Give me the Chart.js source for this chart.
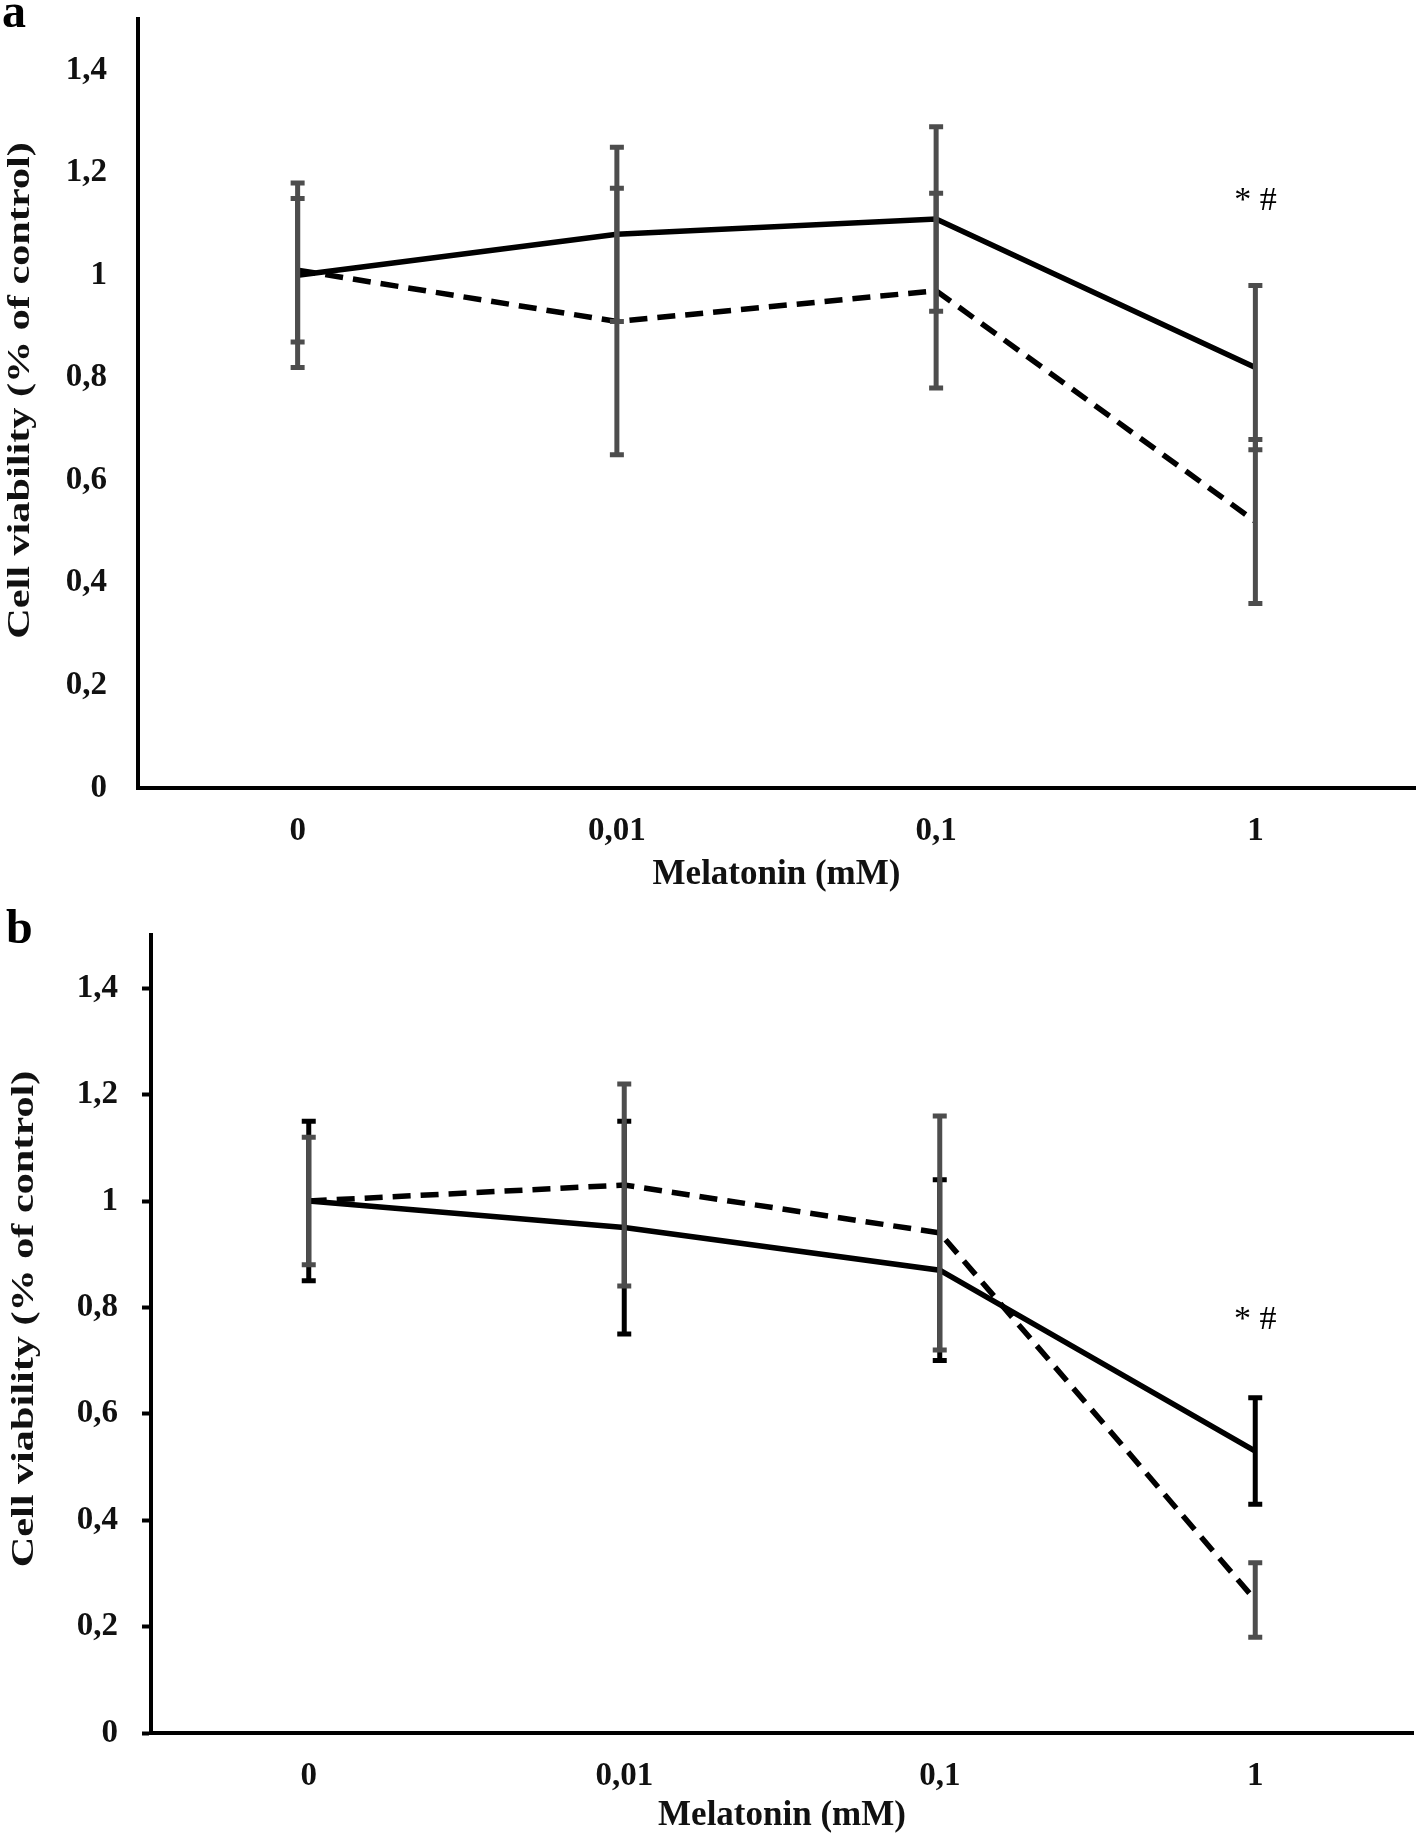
<!DOCTYPE html>
<html>
<head>
<meta charset="utf-8">
<title>Cell viability vs melatonin</title>
<script src="https://cdn.jsdelivr.net/npm/chart.js@4.4.1/dist/chart.umd.min.js"></script>
<style>
  body { margin: 0; background: #fff; }
  .panel { position: absolute; left: 0; width: 1418px; }
  #wrapA { top: 0; height: 900px; }
  #wrapB { top: 900px; height: 941px; }
</style>
</head>
<body>
<div class="panel" id="wrapA"><canvas id="chartA"></canvas></div>
<div class="panel" id="wrapB"><canvas id="chartB"></canvas></div>
<script>
const doses = ["0", "0,01", "0,1", "1"];
const yTickLabels = ["0", "0,2", "0,4", "0,6", "0,8", "1", "1,2", "1,4"];

// panel a
const aSolid = [1.0, 1.08, 1.11, 0.82];
const aSolidErr = [0.18, 0.17, 0.18, 0.16];
const aDashed = [1.01, 0.91, 0.97, 0.52];
const aDashedErr = [0.14, 0.26, 0.19, 0.16];

// panel b
const bSolid = [1.0, 0.95, 0.87, 0.53];
const bSolidErr = [0.15, 0.20, 0.17, 0.10];
const bDashed = [1.0, 1.03, 0.94, 0.25];
const bDashedErr = [0.12, 0.19, 0.22, 0.07];

// significance mark above the 1 mM point
const markText = "* #";
const aMarkY = 1.145;
const bMarkY = 0.776;

const serif = "'Liberation Serif', 'Times New Roman', serif";
const gray = "#4d4d4d";

function drawErrors(chart, values, errs, color) {
  const ctx = chart.ctx;
  const xs = chart.scales.x;
  const ys = chart.scales.y;
  ctx.save();
  ctx.strokeStyle = color;
  ctx.lineWidth = 5;
  values.forEach((v, i) => {
    const px = xs.getPixelForValue(i);
    const top = ys.getPixelForValue(v + errs[i]);
    const bot = ys.getPixelForValue(v - errs[i]);
    ctx.beginPath();
    ctx.moveTo(px, top);
    ctx.lineTo(px, bot);
    ctx.moveTo(px - 7, top);
    ctx.lineTo(px + 7, top);
    ctx.moveTo(px - 7, bot);
    ctx.lineTo(px + 7, bot);
    ctx.stroke();
  });
  ctx.restore();
}

function makePanel(id, p) {
  const extras = {
    id: "extras",
    afterDatasetsDraw(chart) {
      drawErrors(chart, p.solid, p.solidErr, p.solidErrColor);
      drawErrors(chart, p.dashed, p.dashedErr, gray);
    },
    afterDraw(chart) {
      const ctx = chart.ctx;
      const area = chart.chartArea;
      ctx.save();
      ctx.fillStyle = "#000";
      ctx.textAlign = "left";
      ctx.textBaseline = "alphabetic";
      ctx.font = "bold 48px " + serif;
      ctx.fillText(p.letter, p.letterX, p.letterY);

      // y title, stretched along its length like the original
      ctx.fillStyle = "#111";
      ctx.translate(p.titleX, (area.top + area.bottom) / 2 + p.titleShift);
      ctx.rotate(-Math.PI / 2);
      ctx.scale(1.32, 1);
      ctx.textAlign = "center";
      ctx.textBaseline = "middle";
      ctx.font = "bold 32px " + serif;
      ctx.fillText("Cell viability (% of control)", 0, 0);
      ctx.restore();

      ctx.save();
      ctx.fillStyle = "#000";
      ctx.font = "34px " + serif;
      ctx.textAlign = "center";
      ctx.textBaseline = "middle";
      ctx.fillText(markText, chart.scales.x.getPixelForValue(3), chart.scales.y.getPixelForValue(p.markY));
      ctx.restore();
    }
  };

  return new Chart(document.getElementById(id), {
    type: "line",
    data: {
      labels: doses,
      datasets: [
        {
          label: "solid",
          data: p.solid,
          borderColor: "#000",
          borderWidth: 5.5,
          pointRadius: 0,
          fill: false,
          tension: 0
        },
        {
          label: "dashed",
          data: p.dashed,
          borderColor: "#000",
          borderWidth: 5.5,
          borderDash: [18, 10],
          pointRadius: 0,
          fill: false,
          tension: 0
        }
      ]
    },
    options: {
      responsive: true,
      maintainAspectRatio: false,
      animation: false,
      layout: {
        padding: { top: p.top, right: p.right, left: 0, bottom: 0 }
      },
      plugins: {
        legend: { display: false },
        tooltip: { enabled: false }
      },
      scales: {
        x: {
          offset: true,
          grid: { display: false, drawTicks: false },
          border: { display: true, color: "#000", width: 4 },
          ticks: {
            color: "#111",
            padding: p.xPad,
            font: { family: serif, size: 33, weight: "bold" }
          },
          title: {
            display: true,
            text: "Melatonin (mM)",
            color: "#111",
            padding: { top: 0, bottom: 4 },
            font: { family: serif, size: 35, weight: "bold" }
          },
          afterFit(scale) {
            scale.height = p.xHeight;
            scale.paddingLeft = 0;
            scale.paddingRight = 0;
          }
        },
        y: {
          min: 0,
          max: 1.5,
          grid: p.yGrid,
          border: { display: true, color: "#000", width: 4 },
          ticks: {
            stepSize: 0.2,
            includeBounds: false,
            color: "#111",
            padding: p.yPad,
            font: { family: serif, size: 33, weight: "bold" },
            callback: (v) => yTickLabels[Math.round(v / 0.2)]
          },
          afterFit(scale) {
            scale.width = p.yWidth;
            scale.paddingTop = 0;
            scale.paddingBottom = 0;
          }
        }
      }
    },
    plugins: [extras]
  });
}

makePanel("chartA", {
  solid: aSolid, solidErr: aSolidErr, solidErrColor: gray,
  dashed: aDashed, dashedErr: aDashedErr,
  markY: aMarkY,
  letter: "a", letterX: 2, letterY: 27,
  titleX: 21, titleShift: -13,
  top: 19, right: 3, xHeight: 112, xPad: 24, yWidth: 138, yPad: 31,
  yGrid: { display: false, drawTicks: false }
});

makePanel("chartB", {
  solid: bSolid, solidErr: bSolidErr, solidErrColor: "#000",
  dashed: bDashed, dashedErr: bDashedErr,
  markY: bMarkY,
  letter: "b", letterX: 6, letterY: 43,
  titleX: 25, titleShift: -15,
  top: 35, right: 5, xHeight: 108, xPad: 24, yWidth: 151, yPad: 24,
  yGrid: { display: true, drawOnChartArea: false, drawTicks: true, tickLength: 9, tickWidth: 4, tickColor: "#000" }
});
</script>
</body>
</html>
